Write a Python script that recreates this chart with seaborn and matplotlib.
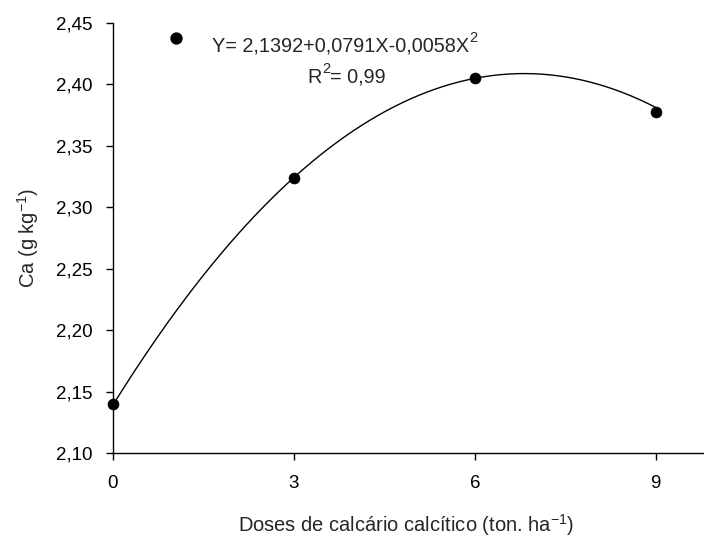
import numpy as np
import pandas as pd
import seaborn as sns
import matplotlib
matplotlib.use("Agg")
import matplotlib.pyplot as plt

# Observed calcium content by limestone dose
doses = [0, 3, 6, 9]
ca_values = [2.140, 2.324, 2.405, 2.378]

# Quadratic fit coefficients
b0, b1, b2 = 2.1392, 0.0791, -0.0058
equation_label = "Y= 2,1392+0,0791X-0,0058X"
r2_value = "= 0,99"
x_ticks = [0, 3, 6, 9]
y_ticks = [2.10, 2.15, 2.20, 2.25, 2.30, 2.35, 2.40, 2.45]

sns.set_style("ticks")
plt.rcParams["font.family"] = ["Liberation Sans", "DejaVu Sans"]
plt.rcParams["mathtext.fontset"] = "custom"
plt.rcParams["mathtext.rm"] = "Liberation Sans"
plt.rcParams["mathtext.it"] = "Liberation Sans"
plt.rcParams["mathtext.default"] = "regular"

fig = plt.figure(figsize=(7.04, 5.40), dpi=100)
ax = fig.add_axes([0.1605, 0.161, 0.8395, 0.7963])

df = pd.DataFrame({"dose": doses, "ca": ca_values})
xs = np.linspace(0, 9, 200)
fit = pd.DataFrame({"dose": xs, "ca": b0 + b1 * xs + b2 * xs ** 2})

sns.lineplot(data=fit, x="dose", y="ca", ax=ax, color="black", linewidth=1.0)
sns.scatterplot(data=df, x="dose", y="ca", ax=ax, color="black", s=62,
                edgecolor="black", linewidth=0.5, zorder=3, clip_on=False)

# Legend symbol and regression equation
ax.scatter([1.04], [2.4375], color="black", s=62, zorder=3, clip_on=False)
eq = ax.text(1.64, 2.4265, equation_label, fontsize=14.3, va="baseline", ha="left")
eq_sup = ax.annotate("2", xy=(1, 0), xycoords=eq, xytext=(0.3, 8),
                     textcoords="offset points", fontsize=10.5, va="bottom")

r_txt = ax.text(3.22, 2.4013, "R", fontsize=14.3, va="baseline", ha="left")
r_sup = ax.annotate("2", xy=(1, 0), xycoords=r_txt, xytext=(0.2, 8),
                    textcoords="offset points", fontsize=10.5, va="bottom")
ax.annotate(r2_value, xy=(1, 0), xycoords=(r_sup, r_txt), xytext=(0, 0),
            textcoords="offset points", fontsize=14.3, va="bottom")

ax.set_xlim(0, 9.8)
ax.set_ylim(2.10, 2.45)
ax.set_xticks(x_ticks)
ax.set_yticks(y_ticks)
ax.set_xticklabels([str(t) for t in x_ticks], fontsize=13.5)
ax.set_yticklabels([f"{t:.2f}".replace(".", ",") for t in y_ticks], fontsize=13.5)
ax.tick_params(direction="out", length=5, width=1, colors="black")
ax.tick_params(axis="y", pad=9.5)
ax.tick_params(axis="x", pad=10.5)
ax.set_xlabel("Doses de calcário calcítico (ton. ha$^{-1}$)", fontsize=14.5)
ax.set_ylabel("Ca (g kg$^{-1}$)", fontsize=14.5)
ax.xaxis.set_label_coords(0.496, -0.138)
ax.yaxis.set_label_coords(-0.122, 0.5)
for s in ["left", "bottom"]:
    ax.spines[s].set_color("black")
    ax.spines[s].set_linewidth(1)
sns.despine(ax=ax)

fig.savefig("out.png", dpi=100)
